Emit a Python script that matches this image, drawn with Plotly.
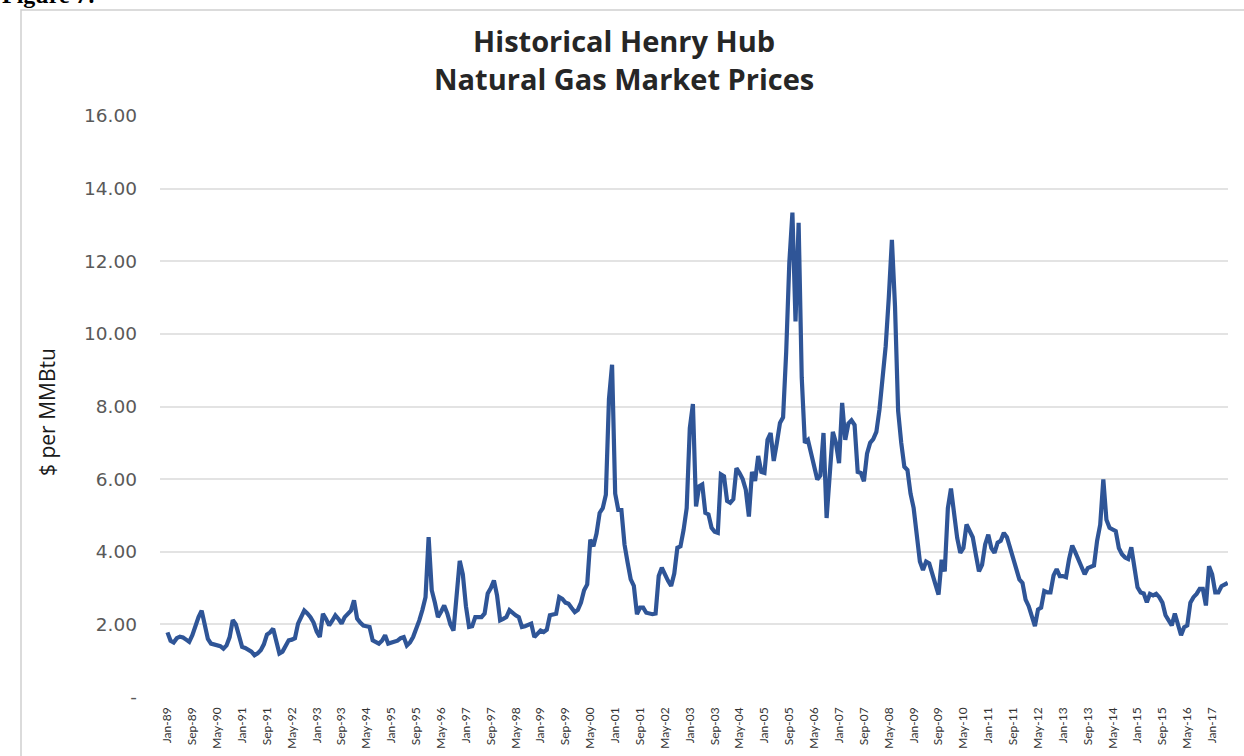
import pandas as pd
import plotly.graph_objects as go

# Monthly Henry Hub prices ($/MMBtu), Jan-1989 .. Jun-2017
p1989 = [1.78, 1.55, 1.50, 1.62, 1.66, 1.64, 1.58, 1.52, 1.70, 1.97, 2.20, 2.38]
p1990 = [1.95, 1.60, 1.47, 1.45, 1.42, 1.40, 1.33, 1.42, 1.65, 2.12, 2.00, 1.65]
p1991 = [1.38, 1.35, 1.29, 1.25, 1.15, 1.20, 1.29, 1.45, 1.72, 1.78, 1.88, 1.55]
p1992 = [1.20, 1.25, 1.38, 1.56, 1.58, 1.62, 2.02, 2.20, 2.38, 2.30, 2.20, 2.05]
p1993 = [1.80, 1.65, 2.29, 2.15, 1.97, 2.10, 2.25, 2.15, 2.02, 2.20, 2.30, 2.38]
p1994 = [2.66, 2.16, 2.05, 1.97, 1.95, 1.93, 1.56, 1.50, 1.47, 1.55, 1.70, 1.47]
p1995 = [1.50, 1.51, 1.55, 1.62, 1.65, 1.42, 1.50, 1.65, 1.85, 2.11, 2.40, 2.75]
p1996 = [4.40, 2.94, 2.60, 2.20, 2.35, 2.52, 2.30, 2.00, 1.83, 2.70, 3.75, 3.38]
p1997 = [2.50, 1.93, 1.95, 2.20, 2.20, 2.20, 2.30, 2.85, 3.00, 3.21, 2.80, 2.11]
p1998 = [2.15, 2.20, 2.39, 2.30, 2.25, 2.20, 1.93, 1.95, 2.00, 2.02, 1.65, 1.75]
p1999 = [1.83, 1.79, 1.85, 2.25, 2.28, 2.29, 2.75, 2.70, 2.60, 2.57, 2.45, 2.34]
p2000 = [2.40, 2.60, 2.94, 3.10, 4.33, 4.15, 4.50, 5.07, 5.20, 5.57, 8.20, 9.15]
p2001 = [5.60, 5.15, 5.15, 4.20, 3.70, 3.24, 3.06, 2.28, 2.46, 2.46, 2.32, 2.30]
p2002 = [2.28, 2.30, 3.33, 3.56, 3.35, 3.20, 3.06, 3.40, 4.11, 4.15, 4.60, 5.20]
p2003 = [7.40, 8.07, 5.25, 5.80, 5.85, 5.07, 5.03, 4.66, 4.55, 4.52, 6.13, 6.08]
p2004 = [5.40, 5.35, 5.45, 6.30, 6.17, 6.00, 5.71, 4.97, 6.20, 5.95, 6.64, 6.20]
p2005 = [6.17, 7.08, 7.27, 6.50, 7.00, 7.55, 7.70, 9.50, 11.95, 13.34, 10.34, 13.06]
p2006 = [8.80, 7.00, 7.08, 6.70, 6.44, 5.99, 6.10, 7.27, 4.93, 6.10, 7.30, 7.00]
p2007 = [6.44, 8.10, 7.08, 7.53, 7.62, 7.49, 6.20, 6.17, 5.94, 6.70, 7.00, 7.10]
p2008 = [7.30, 7.91, 8.80, 9.66, 11.00, 12.59, 10.76, 7.88, 7.00, 6.34, 6.25, 5.60]
p2009 = [5.20, 4.50, 3.73, 3.50, 3.73, 3.68, 3.35, 3.10, 2.82, 3.78, 3.46, 5.20]
p2010 = [5.74, 5.11, 4.38, 3.97, 4.10, 4.75, 4.60, 4.40, 3.92, 3.46, 3.64, 4.20]
p2011 = [4.47, 4.10, 3.97, 4.25, 4.30, 4.52, 4.40, 4.10, 3.90, 3.56, 3.24, 3.14]
p2012 = [2.68, 2.50, 2.17, 1.95, 2.41, 2.46, 2.92, 2.88, 2.88, 3.35, 3.52, 3.33]
p2013 = [3.33, 3.30, 3.80, 4.17, 3.98, 3.80, 3.60, 3.38, 3.55, 3.60, 3.62, 4.30]
p2014 = [4.75, 5.99, 4.88, 4.66, 4.60, 4.57, 4.10, 3.93, 3.84, 3.80, 4.12, 3.50]
p2015 = [3.02, 2.88, 2.85, 2.61, 2.84, 2.80, 2.84, 2.75, 2.60, 2.25, 2.10, 1.97]
p2016 = [2.30, 2.00, 1.70, 1.92, 1.97, 2.60, 2.75, 2.84, 2.98, 2.98, 2.52, 3.60]
p2017 = [3.38, 2.88, 2.88, 3.05, 3.10, 3.14]

prices = (p1989 + p1990 + p1991 + p1992 + p1993 + p1994 + p1995 + p1996 + p1997
          + p1998 + p1999 + p2000 + p2001 + p2002 + p2003 + p2004 + p2005 + p2006
          + p2007 + p2008 + p2009 + p2010 + p2011 + p2012 + p2013 + p2014 + p2015
          + p2016 + p2017)

months = pd.date_range("1989-01-01", periods=len(prices), freq="MS").strftime("%b-%y").tolist()
tick_labels = months[::8]

y_tickvals = [0, 2, 4, 6, 8, 10, 12, 14, 16]
y_ticktext = ["-", "2.00", "4.00", "6.00", "8.00", "10.00", "12.00", "14.00", "16.00"]

W, H = 1244, 756
L, R, T, B = 160, 16, 116, 59
pw, ph = W - L - R, H - T - B

def px(x):
    return (x - L) / pw

def py(y):
    return (H - B - y) / ph

fig = go.Figure()
fig.add_trace(go.Scatter(
    x=months, y=prices, mode="lines",
    line=dict(color="#2F5597", width=4.2),
    hoverinfo="x+y", showlegend=False,
))

fig.update_layout(
    width=W, height=H,
    margin=dict(l=L, r=R, t=T, b=B, autoexpand=False),
    paper_bgcolor="white", plot_bgcolor="white",
    font=dict(family="Lato, Open Sans, sans-serif", color="#404040"),
    xaxis=dict(
        type="category",
        tickmode="array", tickvals=tick_labels, ticktext=tick_labels,
        tickangle=-90, tickfont=dict(size=12, color="#333333", family="Lato, sans-serif"),
        range=[-2.4, len(prices) - 0.9],
        showgrid=False, zeroline=False, showline=False, ticks="",
        ticklabelstandoff=7,
    ),
    yaxis=dict(
        range=[0, 16], tickmode="array", tickvals=y_tickvals, ticktext=y_ticktext,
        tickfont=dict(size=18.5, color="#595959", family="DejaVu Sans, sans-serif"),
        showgrid=True, gridcolor="#E3E3E3", gridwidth=1.5,
        zeroline=False, showline=False, ticks="",
        ticklabelstandoff=22,
    ),
    shapes=[
        dict(type="rect", xref="paper", yref="paper",
             x0=px(21), x1=px(1252), y0=py(770), y1=py(10),
             line=dict(color="#D0D0D0", width=1.5), fillcolor="rgba(0,0,0,0)",
             layer="below"),
    ],
    annotations=[
        dict(text="<b>Historical Henry Hub<br>Natural Gas Market Prices</b>",
             xref="paper", yref="paper", x=px(624), y=py(59),
             xanchor="center", yanchor="middle", showarrow=False,
             font=dict(size=29, color="#262626", family="Open Sans, Lato, sans-serif")),
        dict(text="$ per MMBtu", xref="paper", yref="paper",
             x=px(47), y=py(412), xanchor="center", yanchor="middle",
             textangle=-90, showarrow=False,
             font=dict(size=21, color="#1a1a1a", family="Open Sans, sans-serif")),
        dict(text="<b>Figure 7:</b>", xref="paper", yref="paper",
             x=px(0), y=py(10), xanchor="left", yanchor="bottom",
             showarrow=False,
             font=dict(family="Liberation Serif, serif", size=24, color="black")),
    ],
)

fig.write_html("out.html",
               config={"displayModeBar": False},
               post_script="document.body.style.margin='0';document.body.style.overflow='hidden';")
